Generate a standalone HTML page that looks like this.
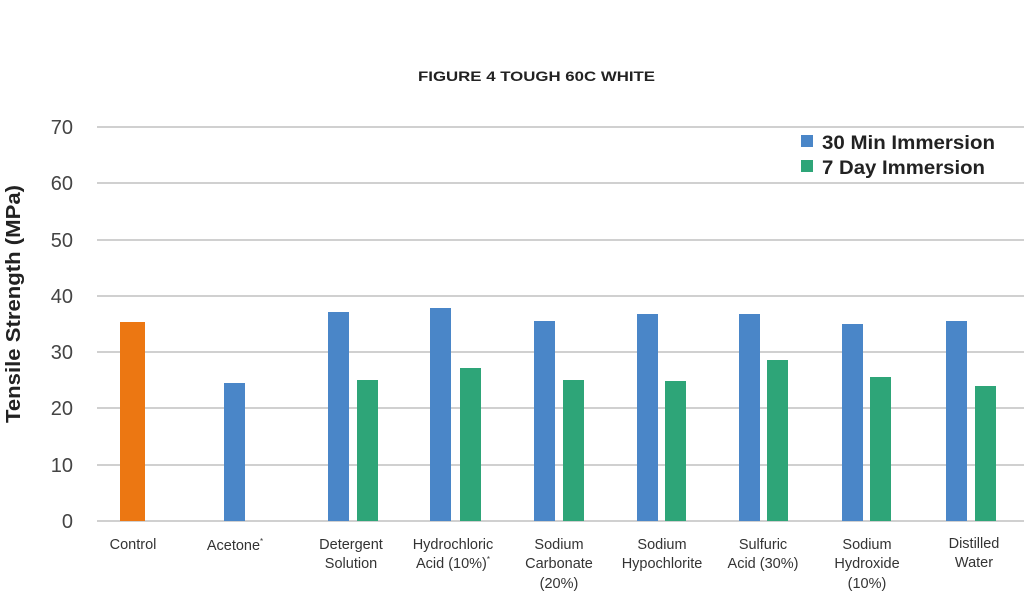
<!DOCTYPE html>
<html><head><style>body{margin:0;background:#fff}svg{display:block;font-family:"Liberation Sans","DejaVu Sans",sans-serif}</style></head><body>
<svg width="1024" height="608" xmlns="http://www.w3.org/2000/svg">
<text x="418" y="81" textLength="237" lengthAdjust="spacingAndGlyphs" font-size="14" font-weight="bold" fill="#222">FIGURE 4 TOUGH 60C WHITE</text>
<g stroke="#d0d0d0" stroke-width="2">
<line x1="97" x2="1024" y1="127" y2="127"/><line x1="97" x2="1024" y1="183" y2="183"/><line x1="97" x2="1024" y1="240" y2="240"/><line x1="97" x2="1024" y1="296" y2="296"/><line x1="97" x2="1024" y1="352" y2="352"/><line x1="97" x2="1024" y1="408" y2="408"/><line x1="97" x2="1024" y1="465" y2="465"/><line x1="97" x2="1024" y1="521" y2="521"/>
</g>
<g font-size="20" fill="#444" text-anchor="end">
<text x="73" y="134">70</text><text x="73" y="190">60</text><text x="73" y="247">50</text><text x="73" y="303">40</text><text x="73" y="359">30</text><text x="73" y="415">20</text><text x="73" y="472">10</text><text x="73" y="528">0</text>
</g>
<text transform="translate(20,423) rotate(-90)" textLength="238" lengthAdjust="spacingAndGlyphs" font-size="20" font-weight="bold" fill="#222">Tensile Strength (MPa)</text>
<rect x="120" y="322" width="25" height="199" fill="#ec7712"/>
<g fill="#4a86c8">
<rect x="224" y="383" width="21" height="138"/>
<rect x="328" y="312" width="21" height="209"/>
<rect x="430" y="308" width="21" height="213"/>
<rect x="534" y="321" width="21" height="200"/>
<rect x="637" y="314" width="21" height="207"/>
<rect x="739" y="314" width="21" height="207"/>
<rect x="842" y="324" width="21" height="197"/>
<rect x="946" y="321" width="21" height="200"/>
</g>
<g fill="#2ea578">
<rect x="357" y="380" width="21" height="141"/>
<rect x="460" y="368" width="21" height="153"/>
<rect x="563" y="380" width="21" height="141"/>
<rect x="665" y="381" width="21" height="140"/>
<rect x="767" y="360" width="21" height="161"/>
<rect x="870" y="377" width="21" height="144"/>
<rect x="975" y="386" width="21" height="135"/>
</g>
<rect x="801" y="135" width="12" height="12" fill="#4a86c8"/>
<rect x="801" y="160" width="12" height="12" fill="#2ea578"/>
<text x="822" y="149" textLength="173" lengthAdjust="spacingAndGlyphs" font-size="19" font-weight="bold" fill="#222">30 Min Immersion</text>
<text x="822" y="174" textLength="163" lengthAdjust="spacingAndGlyphs" font-size="19" font-weight="bold" fill="#222">7 Day Immersion</text>
<g font-size="14.5" fill="#333" text-anchor="middle">
<text x="133" y="549">Control</text>
<text x="235" y="550">Acetone<tspan font-size="8" dy="-6">*</tspan></text>
<text x="351" y="549">Detergent</text><text x="351" y="568">Solution</text>
<text x="453" y="549">Hydrochloric</text><text x="453" y="568">Acid (10%)<tspan font-size="8" dy="-6">*</tspan></text>
<text x="559" y="549">Sodium</text><text x="559" y="568">Carbonate</text><text x="559" y="588">(20%)</text>
<text x="662" y="549">Sodium</text><text x="662" y="568">Hypochlorite</text>
<text x="763" y="549">Sulfuric</text><text x="763" y="568">Acid (30%)</text>
<text x="867" y="549">Sodium</text><text x="867" y="568">Hydroxide</text><text x="867" y="588">(10%)</text>
<text x="974" y="548">Distilled</text><text x="974" y="567">Water</text>
</g>
</svg>
</body></html>
